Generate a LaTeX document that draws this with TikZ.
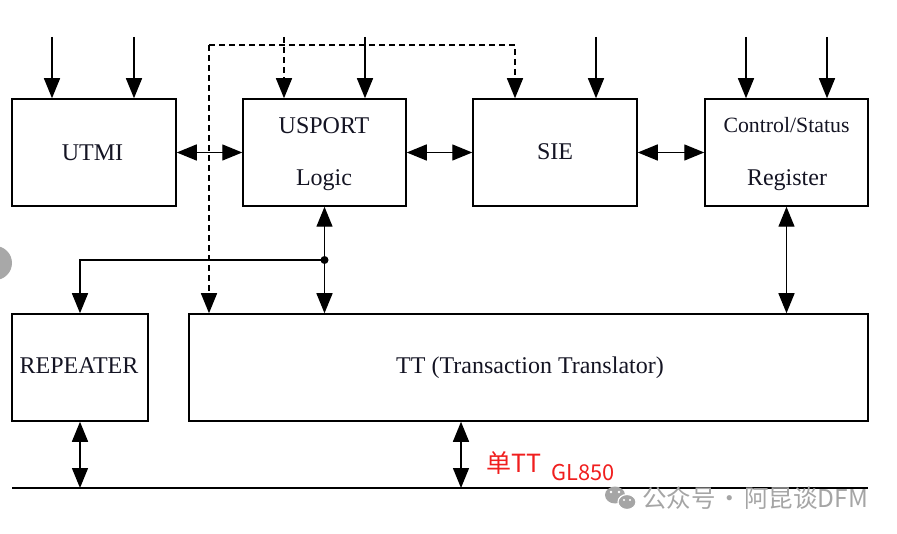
\documentclass[tikz,border=0pt]{standalone}
\usepackage{fontspec}
\setmainfont{Liberation Serif}
\newfontfamily\cjk{Noto Sans CJK SC}
\usetikzlibrary{arrows.meta,calc}
\definecolor{wm}{RGB}{165,165,165}
\definecolor{redtxt}{RGB}{240,30,30}
\definecolor{sidedot}{RGB}{168,168,168}
\definecolor{txt}{RGB}{20,20,35}
\tikzset{
  blk/.style={draw, line width=1.5pt, minimum width=#1, minimum height=107pt, inner sep=0pt, anchor=center},
  lbl/.style={font=\fontsize{24}{28}\selectfont, anchor=base, inner sep=0pt, text=txt},
  smalllbl/.style={font=\fontsize{21.8}{26}\selectfont, anchor=base, inner sep=0pt, text=txt},
  con/.style={line width=1.4pt},
  arr/.style={con, -{Triangle[length=20pt,width=16pt]}},
  darr/.style={con, {Triangle[length=20pt,width=16pt]}-{Triangle[length=20pt,width=16pt]}},
  dsh/.style={dash pattern=on 6pt off 4pt},
  redlbl/.style={anchor=base west, inner sep=0pt, text=redtxt},
  wmlbl/.style={anchor=base west, inner sep=0pt, text=wm, font=\cjk\fontsize{24.5}{28}\selectfont},
}
\begin{document}
\begin{tikzpicture}[x=1pt,y=-1pt]
\useasboundingbox (0,0) rectangle (897,534);
\begin{scope}
  \clip (0,0) rectangle (897,534);
  \fill[sidedot] (-5,263) circle (17pt);
\end{scope}

% boxes
\node[blk=164pt] (utmi) at (94,152.5) {};
\node[blk=163pt] (usport) at (324.5,152.5) {};
\node[blk=164pt] (sie) at (555,152.5) {};
\node[blk=163pt] (csr) at (786.5,152.5) {};
\node[blk=136pt] (repeater) at (80,367.5) {};
\node[blk=679pt] (tt) at (528.5,367.5) {};

% labels
\node[lbl] (lutmi) at (92.5,160.5) {UTMI};
\node[lbl] (lusport) at (324,133.3) {USPORT};
\node[lbl] (llogic) at (324,186) {Logic};
\node[lbl] (lsie) at (555,160) {SIE};
\node[smalllbl] (lcs) at (786.5,132.7) {Control/Status};
\node[lbl] (lreg) at (787,186) {Register};
\node[lbl] (lrep) at (79,374) {REPEATER};
\node[lbl] (ltt) at (530,374) {TT (Transaction Translator)};

% top inputs
\coordinate (i1) at (52,37);
\coordinate (i2) at (134,37);
\coordinate (i3) at (284,37);
\coordinate (i4) at (365,37);
\coordinate (i5) at (596,37);
\coordinate (i6) at (746,37);
\coordinate (i7) at (827,37);
\draw[arr] (i1) -- (i1 |- utmi.north);
\draw[arr] (i2) -- (i2 |- utmi.north);
\draw[arr,dsh] (i3) -- (i3 |- usport.north);
\draw[arr] (i4) -- (i4 |- usport.north);
\draw[arr] (i5) -- (i5 |- sie.north);
\draw[arr] (i6) -- (i6 |- csr.north);
\draw[arr] (i7) -- (i7 |- csr.north);

% dashed loop
\coordinate (dc) at (209,45);
\coordinate (ds) at (515,45);
\draw[arr,dsh] (dc) -- (ds) -- (ds |- sie.north);
\draw[arr,dsh] (dc) -- (dc |- tt.north);

% horizontal links
\draw[darr] (utmi.east) -- (usport.west);
\draw[darr] (usport.east) -- (sie.west);
\draw[darr] (sie.east) -- (csr.west);

% vertical links
\coordinate (j) at ($(usport.south)!0.5!(usport.south |- tt.north)$);
\draw[darr] (usport.south) -- (usport.south |- tt.north);
\fill (j) circle (4pt);
\draw[arr] (j) -| (repeater.north);
\draw[darr] (csr.south) -- (csr.south |- tt.north);

% bus
\coordinate (b0) at (12,488);
\coordinate (b1) at (868,488);
\coordinate (tbx) at (461,488);
\draw[con] (b0) -- (b1);
\draw[darr] (repeater.south) -- (repeater.south |- b0);
\draw[darr] (tbx |- tt.south) -- (tbx);

% red annotation
\node[redlbl, font=\cjk\fontsize{25}{30}\selectfont] (dan) at (486,472.7) {单TT};
\node[redlbl, font=\cjk\fontsize{21.8}{25}\selectfont] (gl) at (551,480) {GL850};

% watermark
\fill[wm] (615,495) ellipse [x radius=10pt, y radius=8.5pt];
\fill[wm, draw=white, line width=1.2pt] (627,502) ellipse [x radius=9pt, y radius=7.5pt];
\fill[white] (611,492) circle (1.3pt) (619,492) circle (1.3pt) (624,500) circle (1.1pt) (630,500) circle (1.1pt);
\node[wmlbl] (w1) at (642,507) {公众号};
\node[wmlbl, anchor=base] (w2) at (730,507) {·};
\node[wmlbl] (w3) at (744,507) {阿昆谈DFM};
\end{tikzpicture}
\end{document}
